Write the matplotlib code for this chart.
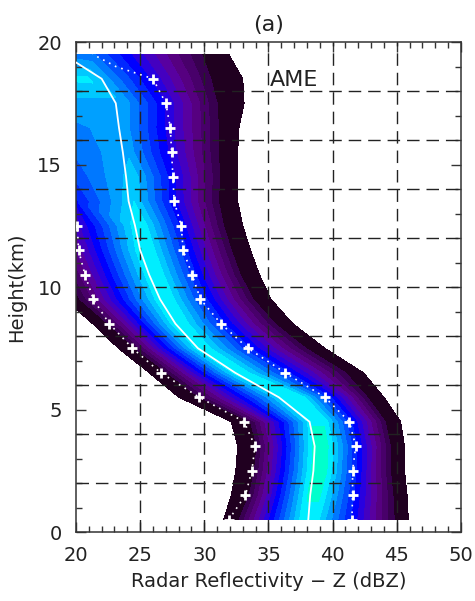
"""CFAD-style reflectivity-height frequency plot (panel a, AME)."""
import numpy as np
import matplotlib.pyplot as plt
from matplotlib.ticker import MultipleLocator

plt.rcParams.update({"font.family": "DejaVu Sans", "axes.linewidth": 1.1})

# profile knots read per height level (dBZ) and the band value at the core
heights = [0.5, 1.5, 2.5, 3.5, 4.5, 5.5, 6.5, 7.5, 8.5, 9.5,
           10.5, 11.5, 12.5, 13.5, 14.5, 15.5, 16.5, 17.5, 18.5, 19.5]
edge_left = [31.5, 32.1, 32.45, 32.6, 32.1, 28.0, 25.7, 23.3, 21.3, 19.1,
             18.1, 17.2, 16.3, 18.0, 18.0, 18.0, 18.0, 18.0, 18.0, 18.0]
band_left = [32.7, 33.5, 33.9, 34.1, 33.6, 29.6, 27.1, 24.6, 22.5, 20.3,
             19.3, 18.45, 17.5, 19.0, 19.0, 19.0, 19.0, 19.0, 19.0, 19.0]
core_left = [37.7, 38.1, 38.5, 38.6, 38.4, 36.2, 32.3, 29.4, 27.6, 26.4,
             25.6, 24.9, 24.5, 20.0, 20.0, 20.0, 20.0, 20.0, 20.0, 20.0]
core_right = [38.6, 39.0, 39.4, 39.5, 39.3, 37.6, 33.3, 30.3, 28.5, 27.4,
              26.6, 25.9, 25.4, 24.5, 24.5, 24.0, 23.8, 23.8, 20.8, 21.5]
band_right = [44.8, 44.7, 44.5, 44.5, 44.1, 42.7, 41.0, 37.9, 35.5, 33.8,
              32.8, 32.1, 31.5, 31.1, 31.2, 31.1, 31.1, 31.0, 30.5, 29.8]
edge_right = [45.9, 45.8, 45.6, 45.6, 45.3, 44.0, 42.4, 39.4, 36.9, 35.2,
              34.3, 33.6, 33.0, 32.6, 32.6, 32.6, 32.7, 33.1, 33.0, 31.9]
core_val_left = [13.7, 14.1, 14.4, 14.4, 13.9, 13.6, 13.3, 13.3, 13.5, 13.5,
                 13.5, 13.5, 13.3, 7.8, 9.3, 10.2, 10.8, 11.6, 13.2, 10.5]
core_val_right = [13.7, 14.1, 14.4, 14.4, 13.9, 13.6, 13.3, 13.3, 13.5, 13.5,
                  13.5, 13.5, 13.3, 13.0, 12.6, 11.8, 11.5, 11.6, 13.3, 10.0]

# mean profile (solid white)
mean_h = [0.5, 1.5, 2.5, 3.5, 4.5, 5.5, 6.5, 7.5, 8.5, 9.5,
          10.5, 11.5, 12.5, 13.5, 14.5, 15.5, 16.5, 17.5, 18.5, 19.5]
mean_z = [38.1, 38.25, 38.5, 38.6, 38.2, 35.8, 32.4, 29.5, 27.75, 26.55,
          25.7, 25.0, 24.6, 24.1, 23.9, 23.65, 23.35, 23.1, 22.0, 19.0]

# lower percentile (dotted + crosses)
low_h = [0.5, 1.5, 2.5, 3.5, 4.5, 5.5, 6.5, 7.5, 8.5, 9.5, 10.5, 11.5, 12.5]
low_z = [31.9, 33.2, 33.7, 33.95, 33.1, 29.6, 26.6, 24.4, 22.6, 21.35, 20.7, 20.2, 20.1]

# upper percentile (dotted + crosses)
high_h = [0.5, 1.5, 2.5, 3.5, 4.5, 5.5, 6.5, 7.5, 8.5, 9.5,
          10.5, 11.5, 12.5, 13.5, 14.5, 15.5, 16.5, 17.5, 18.5, 19.0, 19.5]
high_z = [41.5, 41.55, 41.55, 41.8, 41.3, 39.4, 36.3, 33.4, 31.3, 29.7,
          29.05, 28.35, 28.2, 27.65, 27.55, 27.45, 27.35, 27.0, 26.0, 23.1, 21.3]

band_colors = ["#200020", "#380050", "#48006a", "#560080", "#5800a0",
               "#4400c0", "#2800e0", "#0000ff", "#0028ff", "#0050ff",
               "#0078ff", "#00a0ff", "#00c8ff", "#00eeff", "#00ffcc"]
levels = [0.001] + list(range(1, 15)) + [20]

X = np.column_stack([edge_left, band_left, core_left, core_right, band_right, edge_right])
n = len(heights)
Z = np.column_stack([np.zeros(n), np.ones(n), core_val_left, core_val_right,
                     np.ones(n), np.zeros(n)])
Y = np.repeat(np.array(heights)[:, None], X.shape[1], axis=1)

fig = plt.figure(figsize=(4.75, 6.01), dpi=100)
ax = fig.add_axes([0.16, 0.1148, 0.8105, 0.8153])

ax.contourf(X, Y, Z, levels=levels, colors=band_colors, zorder=1)

dash = (0, (9, 5))
for x in [25, 30, 35, 40, 45]:
    ax.axvline(x, color="#222222", lw=1.0, ls=dash, zorder=3)
for y in range(2, 19, 2):
    ax.axhline(y, color="#222222", lw=1.0, ls=dash, zorder=3)

ax.plot(mean_z, mean_h, color="white", lw=1.3, zorder=4)
ax.plot(low_z, low_h, color="white", lw=1.2, ls=(0, (1, 3)), marker="+",
        ms=6.5, mew=2, zorder=4)
ax.plot(high_z, high_h, color="white", lw=1.2, ls=(0, (1, 3)), marker="+",
        ms=6.5, mew=2, markevery=[i for i, h in enumerate(high_h) if h % 1 == 0.5 and h < 19],
        zorder=4)

ax.text(37.0, 18.45, "AME", fontsize=16, ha="center", va="center", color="#222222", zorder=5)

ax.set_xlim(20, 50)
ax.set_ylim(0, 20)
ax.xaxis.set_major_locator(MultipleLocator(5))
ax.xaxis.set_minor_locator(MultipleLocator(1))
ax.yaxis.set_major_locator(MultipleLocator(5))
ax.yaxis.set_minor_locator(MultipleLocator(1))
ax.tick_params(which="both", direction="in", top=True, right=True, colors="#333333",
               labelcolor="#222222", labelsize=14)
ax.tick_params(which="major", length=7, width=1.0, pad=10)
ax.tick_params(which="minor", length=4, width=1.0)
for s in ax.spines.values():
    s.set_color("#333333")

ax.set_xlabel("Radar Reflectivity \u2212 Z (dBZ)", fontsize=14, color="#222222", labelpad=5)
ax.set_ylabel("Height(km)", fontsize=14, color="#222222", labelpad=8)
ax.set_title("(a)", fontsize=16, color="#222222", pad=8)

fig.savefig("out.png", dpi=100)
